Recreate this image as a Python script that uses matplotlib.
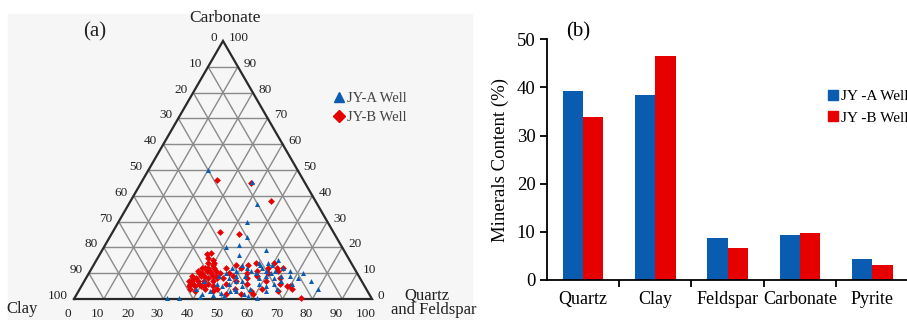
import numpy as np
import matplotlib.pyplot as plt
from matplotlib.patches import Rectangle
from matplotlib.lines import Line2D

plt.rcParams['font.family'] = ['Liberation Serif', 'DejaVu Serif']

BLUE = '#0a5cb0'
RED = '#e60000'

# (a) ternary data: quartz+feldspar %, carbonate %  (clay = rest)
jya_qf = [20, 37, 43, 43, 46, 41, 45, 47, 55, 76, 80, 72, 68, 71,
          31, 35, 42, 42, 44, 46, 48, 50, 53, 56, 58, 63, 61,
          44, 45, 47, 48, 49, 50, 51, 52, 53, 54, 55, 56, 57, 58, 59, 60,
          61, 62, 63, 64, 65, 66, 67, 62, 57, 52, 49, 46, 40, 39, 54, 58,
          60, 64, 66, 70, 47, 51, 56, 59, 53, 50, 61]
jya_carb = [50, 45.5, 37, 30, 24, 20, 21, 17, 19, 7, 4, 10, 9, 8,
            0.5, 0.5, 0.8, 2, 3, 1.5, 2.5, 1, 3, 2, 1, 3, 0.5,
            9, 6, 5, 8, 11, 13, 7, 12, 9, 5, 14, 10, 12, 8, 6, 13,
            10, 11, 8, 12, 9, 7, 11, 5, 4, 4, 6, 10, 7, 4, 11, 14,
            9, 6, 4, 6, 12, 3, 13, 11, 7, 9, 15]

jyb_qf = [25, 37, 47, 36, 43, 76, 36, 37,
          37, 39, 38, 37, 38, 36, 37, 38, 39, 37, 36, 38, 40, 39, 40, 41,
          41, 42, 42, 35, 35, 36, 40, 39, 41, 43, 44, 44, 45, 46, 46, 47,
          48, 49, 50, 51, 52, 53, 54, 55, 56, 57, 58, 59, 60, 61, 62, 63,
          64, 65, 66, 67, 70, 69, 71, 52, 48, 45, 50, 55, 60, 54, 61, 59,
          36, 38, 40, 42, 37, 39, 41, 43, 38, 40, 36, 42, 44, 39, 37]
jyb_carb = [46, 45, 38, 26, 25, 0.5, 17.5, 16,
            18, 15, 14, 10, 10, 8, 8, 7, 6, 6, 6, 5, 5, 9, 11, 8,
            12, 9, 6, 9, 7, 11, 14, 12, 5, 7, 10, 5, 12, 8, 4, 10,
            6, 9, 12, 7, 4, 10, 8, 6, 11, 9, 3, 12, 10, 7, 12, 11,
            12, 8, 6, 3, 5, 5, 4, 13, 13, 3, 2, 2, 14, 14, 4, 2,
            7, 9, 7, 11, 4, 11, 10, 9, 12, 13, 5, 4, 8, 3, 12]

ticks = list(range(0, 101, 10))

# (b) bar data
minerals = ['Quartz', 'Clay', 'Feldspar', 'Carbonate', 'Pyrite']
jya_content = [39.2, 38.4, 8.7, 9.4, 4.3]
jyb_content = [33.8, 46.6, 6.6, 9.8, 3.1]

fig = plt.figure(figsize=(9.07, 3.2), dpi=100)
W, H = 907, 320

h = np.sqrt(3) / 2


def tern(q, c):
    q = np.asarray(q, dtype=float)
    c = np.asarray(c, dtype=float)
    return q / 100 + c / 200, c / 100 * h


# ---- (a) ternary
ax1 = fig.add_axes([0, 0, 453.5 / W, 1])
ax1.set_xlim(-74 / 298, (453.5 - 74) / 298)
ax1.set_ylim((299 - 320) / 298, 299 / 298)
ax1.axis('off')

# light panel background for (a)
ax1.add_patch(Rectangle((8 / W, 0), (472 - 8) / W, (320 - 14) / H,
                        transform=fig.transFigure, color='#f6f6f6', zorder=0, clip_on=False))

gcol = '#8a8a8a'
for k in range(10, 100, 10):
    # carbonate constant
    ax1.plot([k / 200, 1 - k / 200], [k / 100 * h] * 2, color=gcol, lw=1.0, zorder=1)
    # quartz+feldspar constant
    x0, y0 = tern(k, 0)
    x1, y1 = tern(k, 100 - k)
    ax1.plot([x0, x1], [y0, y1], color=gcol, lw=1.0, zorder=1)
    # clay constant
    x0, y0 = tern(100 - k, 0)
    x1, y1 = tern(0, 100 - k)
    ax1.plot([x0, x1], [y0, y1], color=gcol, lw=1.0, zorder=1)

ax1.plot([0, 1, 0.5, 0], [0, 0, h, 0], color='#2a2a2a', lw=1.6, zorder=2,
         solid_joinstyle='miter')

px = 1 / 298
for t in ticks:
    xl, yl = tern(0, t)
    ax1.text(xl - 6 * px, yl + 3 * px, str(100 - t), ha='right', va='center', fontsize=9.5, color='#222')
    xr, yr = tern(100 - t, t)
    ax1.text(xr + 6 * px, yr + 3 * px, str(t), ha='left', va='center', fontsize=9.5, color='#222')
    xb, yb = tern(t, 0)
    ax1.text(xb - 6 * px, yb - 15 * px, str(t), ha='center', va='center', fontsize=9.5, color='#222')

ax1.text(0.5 + 2 * px, h + 23 * px, 'Carbonate', ha='center', va='center', fontsize=12.5, color='#222')
ax1.text(-52 * px, -10 * px, 'Clay', ha='center', va='center', fontsize=12, color='#222')
ax1.text(1 + 32 * px, 4 * px, 'Quartz', ha='left', va='center', fontsize=12, color='#222')
ax1.text(1 + 19 * px, -11 * px, 'and Feldspar', ha='left', va='center', fontsize=12, color='#222')
ax1.text(21 * px, h + 9 * px, '(a)', ha='center', va='center', fontsize=15, color='#222')

xa, ya = tern(jya_qf, jya_carb)
ax1.scatter(xa, ya, marker='^', s=13, color=BLUE, linewidths=0, zorder=4)
xb_, yb_ = tern(jyb_qf, jyb_carb)
ax1.scatter(xb_, yb_, marker='D', s=12, color=RED, linewidths=0, zorder=3)

leg1 = [Line2D([], [], ls='', marker='^', ms=7, color=BLUE, label='JY-A Well'),
        Line2D([], [], ls='', marker='D', ms=6, color=RED, label='JY-B Well')]
ax1.legend(handles=leg1, loc='center left', bbox_to_anchor=(335 / W, (320 - 108) / H),
           bbox_transform=fig.transFigure, frameon=False, fontsize=10.5,
           handlelength=0.6, handletextpad=0.25, labelspacing=0.45, labelcolor='#444',
           borderpad=0, borderaxespad=0)

# ---- (b) bars
ax2 = fig.add_axes([546.7 / W, 40 / H, (908.5 - 546.7) / W, (280 - 39.3) / H])
x = np.arange(len(minerals))
bw = 0.28
ax2.bar(x - bw / 2, jya_content, bw, color=BLUE, label='JY -A Well')
ax2.bar(x + bw / 2, jyb_content, bw, color=RED, label='JY -B Well')
ax2.set_xlim(-0.5, len(minerals) - 0.5)
ax2.set_ylim(0, 50)
ax2.set_yticks(range(0, 51, 10))
ax2.set_xticks(x[:-1] + 0.5)
ax2.set_xticklabels([])
ax2.set_xticks(x, minor=True)
ax2.set_xticklabels(minerals, minor=True, fontsize=13)
ax2.tick_params(axis='x', which='minor', length=0, pad=8)
ax2.tick_params(axis='x', which='major', length=5, width=1.3, direction='out')
ax2.tick_params(axis='y', length=5, width=1.3, direction='out', labelsize=13.5, pad=3)
for s in ['top', 'right']:
    ax2.spines[s].set_visible(False)
for s in ['left', 'bottom']:
    ax2.spines[s].set_linewidth(1.3)
ax2.set_ylabel('Minerals Content (%)', fontsize=13.5, labelpad=6)
ax2.text(578 / W, 288 / H, '(b)', transform=fig.transFigure, ha='center', va='center', fontsize=15)

leg2 = [Line2D([], [], ls='', marker='s', ms=6.5, color=BLUE, label='JY -A Well'),
        Line2D([], [], ls='', marker='s', ms=6.5, color=RED, label='JY -B Well')]
ax2.legend(handles=leg2, loc='center left', bbox_to_anchor=(829 / W, (320 - 107) / H),
           bbox_transform=fig.transFigure, frameon=False, fontsize=11,
           handlelength=0.5, handletextpad=0.3, labelspacing=0.5,
           borderpad=0, borderaxespad=0)

fig.savefig('out.png', dpi=100)
